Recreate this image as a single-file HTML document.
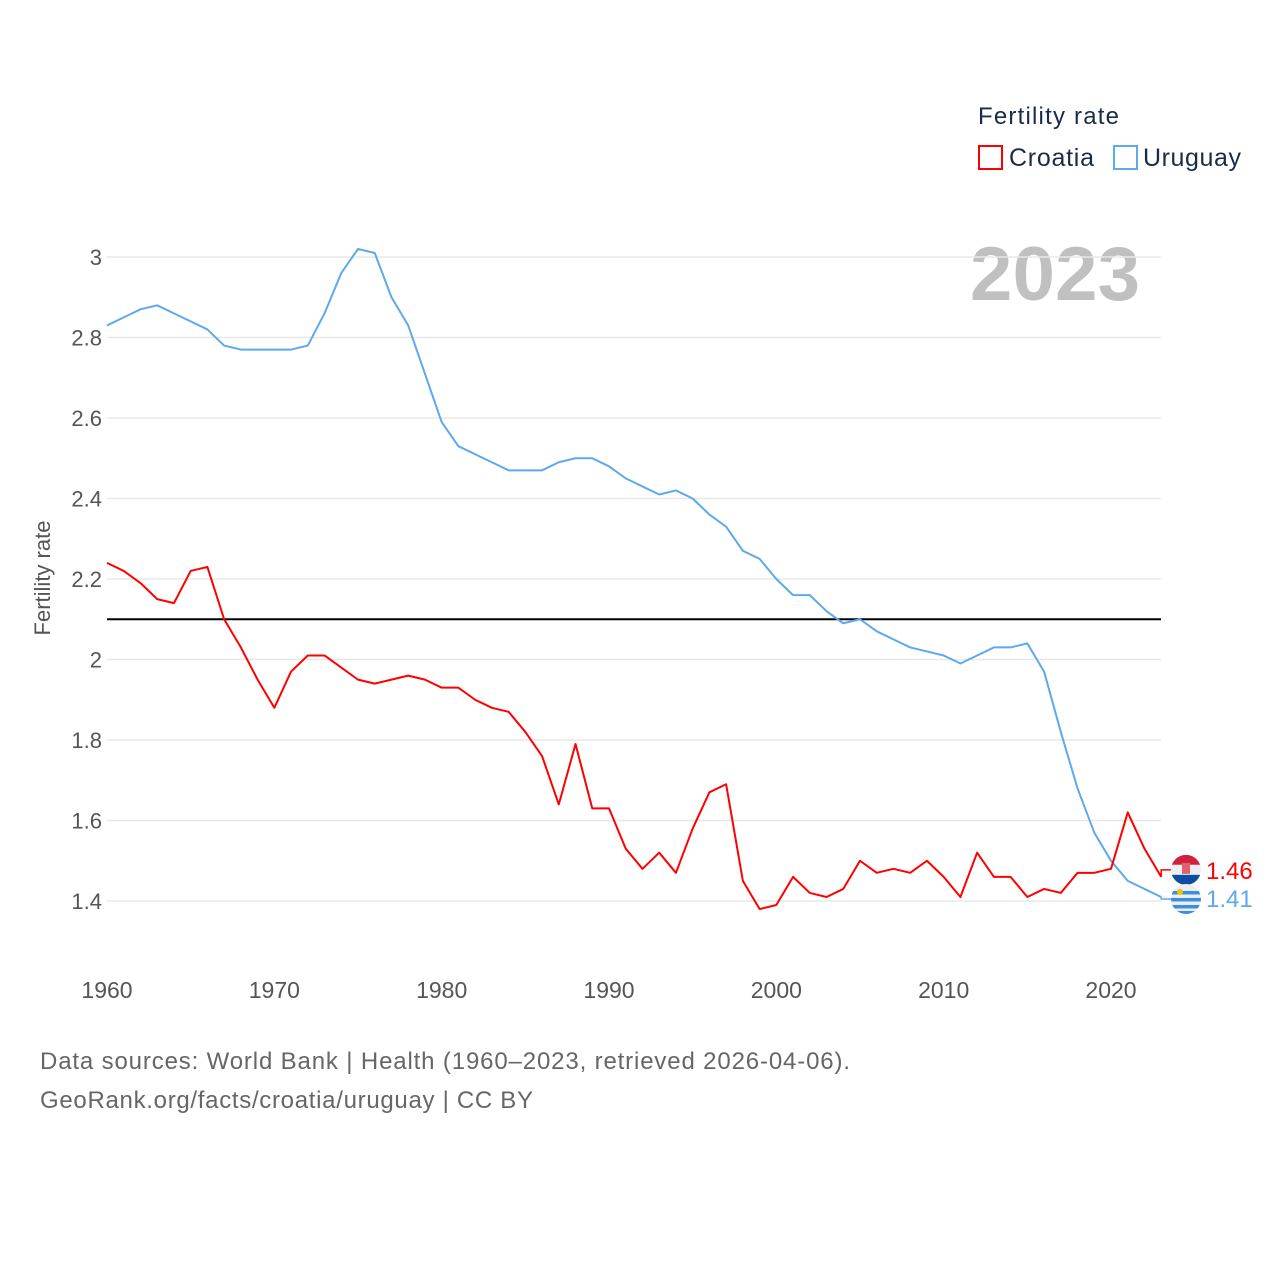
<!DOCTYPE html>
<html><head><meta charset="utf-8">
<style>
body{margin:0;background:#fff;font-family:"Liberation Sans",sans-serif;}
svg text{font-family:"Liberation Sans",sans-serif;}
</style></head>
<body>
<svg id="chart" width="1280" height="1280" xmlns="http://www.w3.org/2000/svg">
<text x="978" y="124" font-size="24" fill="#1a2b4a" textLength="141">Fertility rate</text>
<g>
<rect x="979" y="146" width="23" height="23" fill="none" stroke="#ff0000" stroke-width="2"/>
<text x="1009" y="166" font-size="25" fill="#1a2b4a" textLength="85">Croatia</text></g>
<g>
<rect x="1114" y="146" width="23" height="23" fill="none" stroke="#5ea8ec" stroke-width="2"/>
<text x="1143" y="166" font-size="25" fill="#1a2b4a" textLength="98">Uruguay</text></g>
<text x="1140" y="300" font-size="76" font-weight="bold" fill="#c0c0c0" text-anchor="end" textLength="170">2023</text>
<g id="grid"></g>
<g id="yticks"></g>
<g id="xticks"></g>
<text transform="translate(50,578) rotate(-90)" font-size="22" fill="#555" text-anchor="middle">Fertility rate</text>
<g id="series"></g>
<text x="40" y="1069" font-size="24" fill="#666" textLength="810">Data sources: World Bank | Health (1960–2023, retrieved 2026-04-06).</text>
<text x="40" y="1108" font-size="24" fill="#666" textLength="493">GeoRank.org/facts/croatia/uruguay | CC BY</text>
</svg>
<script>
const years=[];for(let y=1960;y<=2023;y++)years.push(y);
const croatia=[2.24,2.22,2.19,2.15,2.14,2.22,2.23,2.10,2.03,1.95,1.88,1.97,2.01,2.01,1.98,1.95,1.94,1.95,1.96,1.95,1.93,1.93,1.90,1.88,1.87,1.82,1.76,1.64,1.79,1.63,1.63,1.53,1.48,1.52,1.47,1.58,1.67,1.69,1.45,1.38,1.39,1.46,1.42,1.41,1.43,1.50,1.47,1.48,1.47,1.50,1.46,1.41,1.52,1.46,1.46,1.41,1.43,1.42,1.47,1.47,1.48,1.62,1.53,1.46];
const uruguay=[2.83,2.85,2.87,2.88,2.86,2.84,2.82,2.78,2.77,2.77,2.77,2.77,2.78,2.86,2.96,3.02,3.01,2.90,2.83,2.71,2.59,2.53,2.51,2.49,2.47,2.47,2.47,2.49,2.50,2.50,2.48,2.45,2.43,2.41,2.42,2.40,2.36,2.33,2.27,2.25,2.20,2.16,2.16,2.12,2.09,2.10,2.07,2.05,2.03,2.02,2.01,1.99,2.01,2.03,2.03,2.04,1.97,1.82,1.68,1.57,1.50,1.45,1.43,1.41];
const yTicks=[1.4,1.6,1.8,2,2.2,2.4,2.6,2.8,3];
const xTicks=[1960,1970,1980,1990,2000,2010,2020];
const refValue=2.1;
const NS="http://www.w3.org/2000/svg";
const X=y=>107+(y-1960)*(1111-107)/60;
const Y=v=>257+(3-v)*402.5;
function mk(t,a,p){const e=document.createElementNS(NS,t);for(const k in a)e.setAttribute(k,a[k]);p.appendChild(e);return e;}
const grid=document.getElementById('grid'),yt=document.getElementById('yticks'),xt=document.getElementById('xticks'),ser=document.getElementById('series');
yTicks.forEach(v=>{
 const l=mk('line',{x1:107,x2:1161,y1:Y(v),y2:Y(v),stroke:'#e8e8e8','stroke-width':1.5},grid);
 
 
 const t=mk('text',{x:102,y:Y(v)+8,'font-size':22,fill:'#555','text-anchor':'end'},yt);
 t.textContent=String(v);
 
 
});
xTicks.forEach(v=>{
 const t=mk('text',{x:X(v),y:998,'font-size':23,fill:'#555','text-anchor':'middle'},xt);
 t.textContent=String(v);
 
 
});
const ref=mk('line',{x1:107,x2:1161,y1:Y(refValue),y2:Y(refValue),stroke:'#000','stroke-width':2},ser);


function line(data,color,name){
 const p=mk('polyline',{points:data.map((v,i)=>X(years[i])+','+Y(v)).join(' '),fill:'none',stroke:color,'stroke-width':2,'stroke-linejoin':'round'},ser);
 
 
}
line(uruguay,'#5ea8ec','uruguay-line');
line(croatia,'#ff0000','croatia-line');
const lc=croatia[croatia.length-1],lu=uruguay[uruguay.length-1];
const xe=X(2023);
const cy=Y(lc)-7,uy=Y(lu);
const cl=mk('polyline',{points:`${xe},${Y(lc)} ${xe},${cy} ${xe+10},${cy}`,fill:'none',stroke:'#ff0000','stroke-width':1.5},ser);


const ul=mk('polyline',{points:`${xe},${Y(lu)} ${xe},${uy+2} ${xe+10},${uy+2}`,fill:'none',stroke:'#5ea8ec','stroke-width':1.5},ser);


const fc=mk('g',{},ser);


const cpc=mk('clipPath',{id:'cc'},fc);mk('circle',{cx:1186,cy:cy,r:15},cpc);
const gcc=mk('g',{'clip-path':'url(#cc)'},fc);
mk('rect',{x:1171,y:cy-15,width:30,height:10,fill:'#d21f3c'},gcc);
mk('rect',{x:1171,y:cy-5,width:30,height:10,fill:'#eee'},gcc);
mk('rect',{x:1171,y:cy+5,width:30,height:10,fill:'#0c4da2'},gcc);
mk('rect',{x:1182,y:cy-7,width:8,height:11,fill:'#e06070'},gcc);
const tc=mk('text',{x:1206,y:cy+9,'font-size':24,fill:'#ff0000'},ser);
tc.textContent=lc.toFixed(2);


const fu=mk('g',{},ser);


const cp=mk('clipPath',{id:'cu'},fu);mk('circle',{cx:1186,cy:uy+2,r:15},cp);
const gu=mk('g',{'clip-path':'url(#cu)'},fu);
mk('rect',{x:1171,y:uy-13,width:30,height:30,fill:'#eee'},gu);
[uy-6,uy+1,uy+8,uy+14].forEach(yy=>mk('rect',{x:1171,y:yy,width:30,height:3.5,fill:'#3c8fe0'},gu));
mk('circle',{cx:1180,cy:uy-5,r:3,fill:'#f5c000'},gu);
const tu=mk('text',{x:1206,y:uy+10,'font-size':24,fill:'#5ea8ec'},ser);
tu.textContent=lu.toFixed(2);


</script>
</body></html>
